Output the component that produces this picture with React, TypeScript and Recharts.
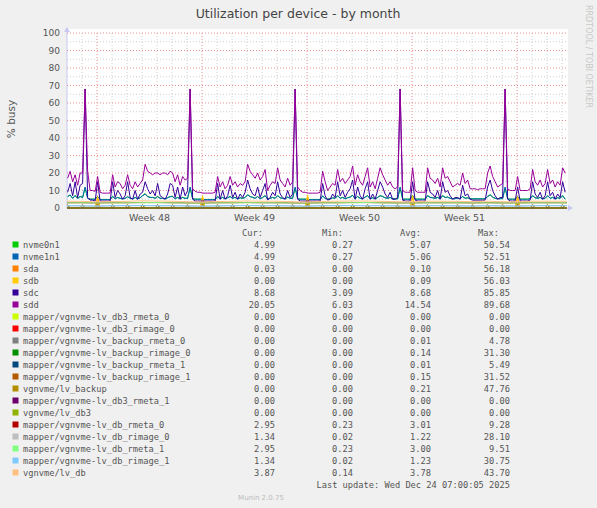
import React from "react";
import { LineChart, Line, XAxis, YAxis, ReferenceLine } from "recharts";

const W = 597;
const H = 508;
const PL = 67;
const PR = 567;
const PT = 33;
const PB = 208;

// sample times (hours from the left edge), 4-hour steps
const sampleHours = Array.from({ length: 200 }, (_, i) => 1 + 4 * i);
// daily times for the flat series
const dayHours = Array.from({ length: 35 }, (_, d) => Math.min(24 * d, 800));

const weekTickHours = [132, 300, 468, 636];
const weekLabels = ["Week 48", "Week 49", "Week 50", "Week 51"];
const weekStartHours = [48, 216, 384, 552, 720];
const yTicks = [0, 10, 20, 30, 40, 50, 60, 70, 80, 90, 100];
const yMinor = [5, 15, 25, 35, 45, 55, 65, 75, 85, 95];
const dayLineHours = Array.from({ length: 33 }, (_, d) => 24 * (d + 1)).filter(
  (h) => !weekStartHours.includes(h)
);

const sdd = [
  17, 21, 15, 19, 13, 20,
  20, 68, 21, 10, 10, 9.5,
  18, 9, 8.5, 8.5, 8.5, 8.5,
  19, 12, 15, 14, 11, 13,
  19, 13, 11, 15, 12, 14,
  16, 25, 21, 20, 19, 20,
  20, 19, 20, 20, 19, 21,
  20, 15, 19, 13, 18, 16,
  17, 68, 11, 9.5, 9, 9,
  8.5, 8.5, 8.5, 8.5, 8.5, 9,
  18, 12, 15, 11, 13, 18,
  13, 15, 12, 14, 13, 15,
  25, 21, 19, 17, 20, 16,
  18, 22, 10, 13, 15, 14,
  23, 16, 14, 12, 17, 13,
  15, 68, 12, 10, 9, 9,
  8.5, 8.5, 8.5, 8.5, 8.5, 9,
  21, 15, 10, 12, 14, 13,
  22, 15, 17, 14, 16, 18,
  24, 13, 19, 15, 13, 18,
  23, 12, 15, 11, 17, 23,
  19, 16, 13, 15, 12, 11,
  12, 68, 10, 9, 9, 9,
  23, 10, 9, 9, 9, 9,
  23, 17, 16, 14, 17, 12,
  23, 17, 18, 15, 12, 13,
  14, 13, 20, 14, 16, 11,
  11, 11, 10.5, 11, 11, 11,
  20, 24, 18, 15, 12, 13,
  14, 68, 11, 10, 10, 10,
  18, 10, 10, 10, 10, 11,
  22, 15, 13, 16, 12, 14,
  22, 14, 16, 12, 15, 13,
  23, 20,
];

const sdc = [
  9, 14, 7, 15, 6, 13,
  14, 68, 6, 4.5, 4.5, 4,
  15, 4, 4, 4, 4, 4,
  15, 6, 10, 8, 5, 7,
  15, 6, 5, 10, 5, 8,
  9, 15, 11, 8, 10, 7,
  14, 7, 6, 5, 8, 14,
  13, 6, 12, 5, 12, 7,
  10, 68, 5, 4, 4, 4,
  4, 4, 4, 4, 4, 4,
  14, 5, 10, 5, 7, 13,
  6, 9, 5, 8, 6, 9,
  16, 11, 8, 7, 12, 6,
  10, 14, 4.5, 6, 9, 7,
  15, 8, 6, 5, 10, 6,
  8, 68, 5, 4, 4, 4,
  4, 4, 4, 4, 4, 4,
  14, 7, 4.5, 5, 8, 6,
  15, 7, 10, 6, 9, 11,
  16, 5, 12, 7, 5, 11,
  15, 5, 8, 5, 10, 15,
  12, 8, 6, 9, 5, 5,
  6, 68, 4.5, 4, 4, 4,
  15, 4.5, 4, 4, 4, 4,
  15, 9, 8, 6, 10, 5,
  15, 9, 10, 7, 5, 6,
  6, 5, 13, 7, 8, 5,
  4.5, 4.5, 4.5, 4.5, 4.5, 4.5,
  12, 16, 10, 7, 5, 6,
  6, 68, 5, 4, 4, 4,
  12, 4, 4, 4, 4, 4.5,
  15, 8, 6, 9, 5, 7,
  15, 7, 9, 5, 8, 6,
  15, 9,
];

const nvme1n1 = [
  6.5, 7.5, 5.5, 7, 5.5, 6.5,
  6, 12, 5.5, 5, 5, 5,
  6.5, 4.8, 4.8, 4.8, 4.8, 4.8,
  6.5, 5.2, 6, 5.5, 5.2, 5.5,
  6.5, 5.5, 5.2, 6, 5.2, 5.8,
  7, 8, 6.5, 6, 6, 5.5,
  6.5, 5.5, 5.5, 5.2, 5.8, 6.5,
  6.5, 5.2, 6, 5.2, 6, 5.5,
  5.5, 12, 5.2, 5, 5, 5,
  4.8, 4.8, 4.8, 4.8, 4.8, 4.8,
  6.5, 5.2, 6, 5.2, 5.8, 6.5,
  5.5, 6, 5.2, 5.8, 5.5, 6,
  7.5, 6.5, 6, 5.5, 6.5, 5.2,
  6, 7, 5, 5.5, 6, 5.5,
  7, 5.8, 5.5, 5.2, 6.2, 5.5,
  5.5, 12, 5.2, 5, 5, 5,
  4.8, 4.8, 4.8, 4.8, 4.8, 4.8,
  6.8, 5.5, 5, 5.2, 5.8, 5.5,
  7, 5.5, 6, 5.2, 5.8, 6.2,
  7.2, 5.2, 6.5, 5.5, 5.2, 6.2,
  7, 5.2, 5.8, 5.2, 6, 7,
  6.5, 5.8, 5.5, 6, 5.2, 5.2,
  5.2, 12, 5, 5, 5, 5,
  7, 5, 5, 5, 5, 5,
  7, 6, 5.8, 5.5, 6, 5.2,
  7, 6, 6.2, 5.5, 5.2, 5.3,
  5.5, 5.3, 6.5, 5.5, 5.8, 5.2,
  5.2, 5.2, 5.2, 5.2, 5.2, 5.2,
  6.5, 7.5, 6.2, 5.5, 5.2, 5.3,
  5.3, 12, 5.2, 5, 5, 5,
  6.5, 5, 5, 5, 5, 5.2,
  7, 5.8, 5.5, 6, 5.2, 5.5,
  7, 5.5, 6, 5.2, 5.8, 5.5,
  7, 5,
];

const nvme0n1 = [
  6.7, 7.3, 5.6, 7.2, 5.4, 6.6,
  6.1, 11.5, 5.6, 5.1, 5.1, 5.1,
  6.6, 4.9, 4.9, 4.9, 4.9, 4.9,
  6.7, 5.3, 6.1, 5.6, 5.3, 5.6,
  6.4, 5.6, 5.3, 6.1, 5.3, 5.9,
  7.2, 8.2, 6.6, 6.1, 6.1, 5.6,
  6.6, 5.6, 5.6, 5.3, 5.9, 6.6,
  6.6, 5.3, 6.1, 5.3, 6.1, 5.6,
  5.6, 11.5, 5.3, 5.1, 5.1, 5.1,
  4.9, 4.9, 4.9, 4.9, 4.9, 4.9,
  6.6, 5.3, 6.1, 5.3, 5.9, 6.6,
  5.6, 6.1, 5.3, 5.9, 5.6, 6.1,
  7.6, 6.6, 6.1, 5.6, 6.6, 5.3,
  6.1, 7.1, 5.1, 5.6, 6.1, 5.6,
  7.1, 5.9, 5.6, 5.3, 6.3, 5.6,
  5.6, 11.5, 5.3, 5.1, 5.1, 5.1,
  4.9, 4.9, 4.9, 4.9, 4.9, 4.9,
  6.9, 5.6, 5.1, 5.3, 5.9, 5.6,
  7.1, 5.6, 6.1, 5.3, 5.9, 6.3,
  7.3, 5.3, 6.6, 5.6, 5.3, 6.3,
  7.1, 5.3, 5.9, 5.3, 6.1, 7.1,
  6.6, 5.9, 5.6, 6.1, 5.3, 5.3,
  5.3, 11.5, 5.1, 5.1, 5.1, 5.1,
  7.1, 5.1, 5.1, 5.1, 5.1, 5.1,
  7.1, 6.1, 5.9, 5.6, 6.1, 5.3,
  7.1, 6.1, 6.3, 5.6, 5.3, 5.4,
  5.6, 5.4, 6.6, 5.6, 5.9, 5.3,
  5.3, 5.3, 5.3, 5.3, 5.3, 5.3,
  6.6, 7.6, 6.3, 5.6, 5.3, 5.4,
  5.4, 11.5, 5.3, 5.1, 5.1, 5.1,
  6.6, 5.1, 5.1, 5.1, 5.1, 5.3,
  7.1, 5.9, 5.6, 6.1, 5.3, 5.6,
  7.1, 5.6, 6.1, 5.3, 5.9, 5.6,
  7.1, 5.1,
];

// flat-ish series, one value per day
const lvDb = [3.9, 3.8, 3.5, 3.7, 3.8, 4.1, 4.0, 3.9, 3.6, 3.4, 3.7, 3.8, 4.0, 3.9, 3.9, 3.6, 3.4, 3.8, 3.9, 4.0, 4.0, 3.8, 3.6, 3.5, 3.9, 3.9, 3.8, 3.6, 3.9, 3.6, 3.5, 3.9, 3.9, 3.9, 3.9];
const dbRmeta0 = [3.0, 3.0, 2.9, 3.0, 3.0, 3.1, 3.1, 3.0, 2.9, 2.8, 3.0, 3.0, 3.1, 3.0, 3.0, 2.9, 2.8, 3.0, 3.0, 3.1, 3.1, 3.0, 2.9, 2.9, 3.0, 3.0, 3.0, 2.9, 3.0, 2.9, 2.9, 3.0, 3.0, 3.0, 2.95];
const dbRmeta1 = [2.95, 3.0, 2.9, 2.95, 3.0, 3.05, 3.1, 2.95, 2.9, 2.8, 2.95, 3.0, 3.05, 3.0, 2.95, 2.9, 2.8, 2.95, 3.0, 3.05, 3.1, 2.95, 2.9, 2.85, 3.0, 2.95, 3.0, 2.9, 2.95, 2.9, 2.85, 3.0, 2.95, 3.0, 2.95];
const dbRimage0 = [1.3, 1.2, 1.1, 1.3, 1.3, 1.4, 1.3, 1.3, 1.2, 1.0, 1.2, 1.3, 1.4, 1.3, 1.3, 1.2, 1.0, 1.3, 1.3, 1.4, 1.3, 1.3, 1.2, 1.1, 1.3, 1.3, 1.2, 1.1, 1.3, 1.2, 1.1, 1.3, 1.3, 1.3, 1.34];
const dbRimage1 = [1.3, 1.25, 1.1, 1.3, 1.35, 1.4, 1.3, 1.3, 1.2, 1.05, 1.25, 1.3, 1.4, 1.3, 1.3, 1.2, 1.05, 1.3, 1.35, 1.4, 1.3, 1.3, 1.2, 1.1, 1.3, 1.3, 1.25, 1.1, 1.3, 1.2, 1.1, 1.3, 1.35, 1.3, 1.34];

// small daily spikes (~01:00 each day)
const backupDays = Array.from({ length: 34 }, (_, d) => d);
const lvBackupPeaks = [2, 2, 2.5, 2, 2, 2, 2, 2, 2, 2.5, 2, 2, 2, 2, 2, 2, 2.5, 2, 2, 2, 2, 2, 2, 2.5, 2, 2, 2, 2, 2, 2, 2.5, 2, 2, 2];
const backupRimagePeaks = [1.5, 1.5, 2, 1.5, 1.5, 1.5, 1.5, 1.5, 1.5, 2, 1.5, 1.5, 1.5, 1.5, 1.5, 1.5, 2, 1.5, 1.5, 1.5, 1.5, 1.5, 1.5, 2, 1.5, 1.5, 1.5, 1.5, 1.5, 1.5, 2, 1.5, 1.5, 1.5];
// weekly spikes on sda / sdb
const sdDays = [2, 9, 16, 23, 30];
const sdaPeaks = [5.5, 6, 6, 6.5, 6];
const sdbPeaks = [6.5, 7, 7.5, 7, 6.5];

const legendNames = [
  "nvme0n1", "nvme1n1", "sda", "sdb", "sdc", "sdd",
  "mapper/vgnvme-lv_db3_rmeta_0", "mapper/vgnvme-lv_db3_rimage_0",
  "mapper/vgnvme-lv_backup_rmeta_0", "mapper/vgnvme-lv_backup_rimage_0",
  "mapper/vgnvme-lv_backup_rmeta_1", "mapper/vgnvme-lv_backup_rimage_1",
  "vgnvme/lv_backup", "mapper/vgnvme-lv_db3_rmeta_1", "vgnvme/lv_db3",
  "mapper/vgnvme-lv_db_rmeta_0", "mapper/vgnvme-lv_db_rimage_0",
  "mapper/vgnvme-lv_db_rmeta_1", "mapper/vgnvme-lv_db_rimage_1", "vgnvme/lv_db",
];
const legendColors = [
  "#00cc00", "#0066b3", "#ff8000", "#ffcc00", "#330099", "#990099",
  "#ccff00", "#ff0000", "#808080", "#008f00", "#00487d", "#b35a00",
  "#b38f00", "#6b006b", "#8fb300", "#b30000", "#bebebe", "#80ff80", "#80c9ff", "#ffc080",
];
const curVals = [4.99, 4.99, 0.03, 0.0, 8.68, 20.05, 0, 0, 0, 0, 0, 0, 0, 0, 0, 2.95, 1.34, 2.95, 1.34, 3.87];
const minVals = [0.27, 0.27, 0, 0, 3.09, 6.03, 0, 0, 0, 0, 0, 0, 0, 0, 0, 0.23, 0.02, 0.23, 0.02, 0.14];
const avgVals = [5.07, 5.06, 0.1, 0.09, 8.68, 14.54, 0, 0, 0.01, 0.14, 0.01, 0.15, 0.21, 0, 0, 3.01, 1.22, 3.0, 1.23, 3.78];
const maxVals = [50.54, 52.51, 56.18, 56.03, 85.85, 89.68, 0, 0, 4.78, 31.3, 5.49, 31.52, 47.76, 0, 0, 9.28, 28.1, 9.51, 30.75, 43.7];

const hiRes = sampleHours.map((t, i) => ({
  t,
  nvme0: nvme0n1[i],
  nvme1: nvme1n1[i],
  sdc: sdc[i],
  sdd: sdd[i],
}));
const daily = dayHours.map((t, i) => ({
  t,
  lvDb: lvDb[i],
  rm0: dbRmeta0[i],
  rm1: dbRmeta1[i],
  ri0: dbRimage0[i],
  ri1: dbRimage1[i],
}));
function spikeTable(days: number[], peaks: number[]) {
  const pts: { t: number; v: number }[] = [];
  days.forEach((d, k) => {
    const tp = 24 * d + 1;
    pts.push({ t: tp - 4, v: 0 });
    pts.push({ t: tp, v: peaks[k] });
    pts.push({ t: tp + 4, v: 0 });
  });
  pts.push({ t: 800, v: 0 });
  return pts;
}
const lvBackupData = spikeTable(backupDays, lvBackupPeaks);
const backupRimageData = spikeTable(backupDays, backupRimagePeaks);
const sdaData = spikeTable(sdDays, sdaPeaks);
const sdbData = spikeTable(sdDays, sdbPeaks);
const zeroData = [
  { t: 0, v: 0 },
  { t: 800, v: 0 },
];

const SANS = "'DejaVu Sans', Verdana, sans-serif";
const MONO = "'DejaVu Sans Mono', monospace";
const fmt = (v: number) => v.toFixed(2);

const ROW0 = 244.5;
const ROWH = 12;

export default function App() {
  const lp = { dot: false, isAnimationActive: false, strokeWidth: 1, type: "linear" as const, activeDot: false };
  return (
    <div style={{ position: "fixed", left: 0, top: 0, width: W, height: H, background: "#f0f0f0", overflow: "hidden" }}>
      <svg width={W} height={H} style={{ position: "absolute", left: 0, top: 0 }}>
        <rect x={PL} y={29} width={PR - PL + 1} height={PB - 29} fill="#ffffff" />
        <text x={298} y={18} textAnchor="middle" fontFamily={SANS} fontSize={12.5} fill="#444">
          Utilization per device - by month
        </text>
        <text
          transform="translate(15,119) rotate(-90)"
          textAnchor="middle"
          fontFamily={SANS}
          fontSize={10.5}
          fill="#555"
        >
          % busy
        </text>
        <text
          transform="translate(585.5,5) rotate(90)"
          textAnchor="start"
          fontFamily={SANS}
          fontSize={8}
          fill="#c8c8c8"
        >
          RRDTOOL / TOBI OETIKER
        </text>
        <line x1={PL} y1={PB} x2={PL} y2={30} stroke="#c8c8f4" strokeWidth={1} />
        <polygon points={`${PL - 3},32 ${PL + 3},32 ${PL},27`} fill="#c8c8f4" />
        <line x1={PL} y1={PB} x2={569} y2={PB} stroke="#c8c8f4" strokeWidth={1} />
        <polygon points={`568,${PB - 3} 568,${PB + 3} 573,${PB}`} fill="#c8c8f4" />

        <g fontFamily={MONO} fontSize={8.7} fill="#555">
          <text x={263} y={ROW0 - ROWH + 3} textAnchor="end">Cur:</text>
          <text x={343} y={ROW0 - ROWH + 3} textAnchor="end">Min:</text>
          <text x={421} y={ROW0 - ROWH + 3} textAnchor="end">Avg:</text>
          <text x={499} y={ROW0 - ROWH + 3} textAnchor="end">Max:</text>
          {legendNames.map((name, i) => {
            const cy = ROW0 + i * ROWH;
            return (
              <g key={name}>
                <rect x={12.5} y={cy - 3} width={6} height={6} fill={legendColors[i]} />
                <text x={23} y={cy + 3}>{name}</text>
                <text x={275} y={cy + 3} textAnchor="end">{fmt(curVals[i])}</text>
                <text x={353} y={cy + 3} textAnchor="end">{fmt(minVals[i])}</text>
                <text x={431} y={cy + 3} textAnchor="end">{fmt(avgVals[i])}</text>
                <text x={510} y={cy + 3} textAnchor="end">{fmt(maxVals[i])}</text>
              </g>
            );
          })}
          <text x={510} y={488} textAnchor="end">Last update: Wed Dec 24 07:00:05 2025</text>
        </g>
        <text x={261} y={500} textAnchor="middle" fontFamily={SANS} fontSize={7} fill="#bbb">
          Munin 2.0.75
        </text>
      </svg>

      <div style={{ position: "absolute", left: 0, top: 0 }}>
        <LineChart width={W} height={H} margin={{ top: PT, right: W - PR, bottom: H - PB - 20, left: 0 }}>
          <XAxis
            dataKey="t"
            type="number"
            domain={[0, 800]}
            allowDataOverflow
            ticks={weekTickHours}
            tickFormatter={(v: number) => weekLabels[weekTickHours.indexOf(v)] ?? ""}
            axisLine={false}
            tickLine={false}
            tickSize={4}
            tickMargin={2}
            height={20}
            interval={0}
            tick={{ fontFamily: SANS, fontSize: 9.5, fill: "#555" }}
          />
          <YAxis
            type="number"
            domain={[0, 100]}
            ticks={yTicks}
            interval={0}
            axisLine={false}
            tickLine={false}
            tickSize={5}
            tickMargin={2}
            width={PL}
            tick={{ fontFamily: SANS, fontSize: 9, fill: "#555" }}
          />
          {yMinor.map((y) => (
            <ReferenceLine key={"ym" + y} y={y} stroke="#cfcfcf" strokeDasharray="1 2" strokeWidth={1} />
          ))}
          {dayLineHours.map((h) => (
            <ReferenceLine key={"xm" + h} x={h} stroke="#cfcfcf" strokeDasharray="1 2" strokeWidth={1} />
          ))}
          {yTicks.slice(1).map((y) => (
            <ReferenceLine key={"yM" + y} y={y} stroke="#e89090" strokeDasharray="1 2" strokeWidth={1} />
          ))}
          {weekStartHours.map((h) => (
            <ReferenceLine key={"xM" + h} x={h} stroke="#e89090" strokeDasharray="1 2" strokeWidth={1} />
          ))}

          <Line {...lp} data={hiRes} dataKey="nvme0" stroke={legendColors[0]} />
          <Line {...lp} data={hiRes} dataKey="nvme1" stroke={legendColors[1]} />
          <Line {...lp} data={sdaData} dataKey="v" stroke={legendColors[2]} />
          <Line {...lp} data={sdbData} dataKey="v" stroke={legendColors[3]} />
          <Line {...lp} data={hiRes} dataKey="sdc" stroke={legendColors[4]} />
          <Line {...lp} data={hiRes} dataKey="sdd" stroke={legendColors[5]} />
          <Line {...lp} data={zeroData} dataKey="v" stroke={legendColors[6]} />
          <Line {...lp} data={zeroData} dataKey="v" stroke={legendColors[7]} />
          <Line {...lp} data={zeroData} dataKey="v" stroke={legendColors[8]} />
          <Line {...lp} data={backupRimageData} dataKey="v" stroke={legendColors[9]} />
          <Line {...lp} data={zeroData} dataKey="v" stroke={legendColors[10]} />
          <Line {...lp} data={backupRimageData} dataKey="v" stroke={legendColors[11]} />
          <Line {...lp} data={lvBackupData} dataKey="v" stroke={legendColors[12]} />
          <Line {...lp} data={zeroData} dataKey="v" stroke={legendColors[13]} />
          <Line {...lp} data={zeroData} dataKey="v" stroke={legendColors[14]} />
          <Line {...lp} data={daily} dataKey="rm0" stroke={legendColors[15]} />
          <Line {...lp} data={daily} dataKey="ri0" stroke={legendColors[16]} />
          <Line {...lp} data={daily} dataKey="rm1" stroke={legendColors[17]} />
          <Line {...lp} data={daily} dataKey="ri1" stroke={legendColors[18]} />
          <Line {...lp} data={daily} dataKey="lvDb" stroke={legendColors[19]} />
        </LineChart>
      </div>
    </div>
  );
}
